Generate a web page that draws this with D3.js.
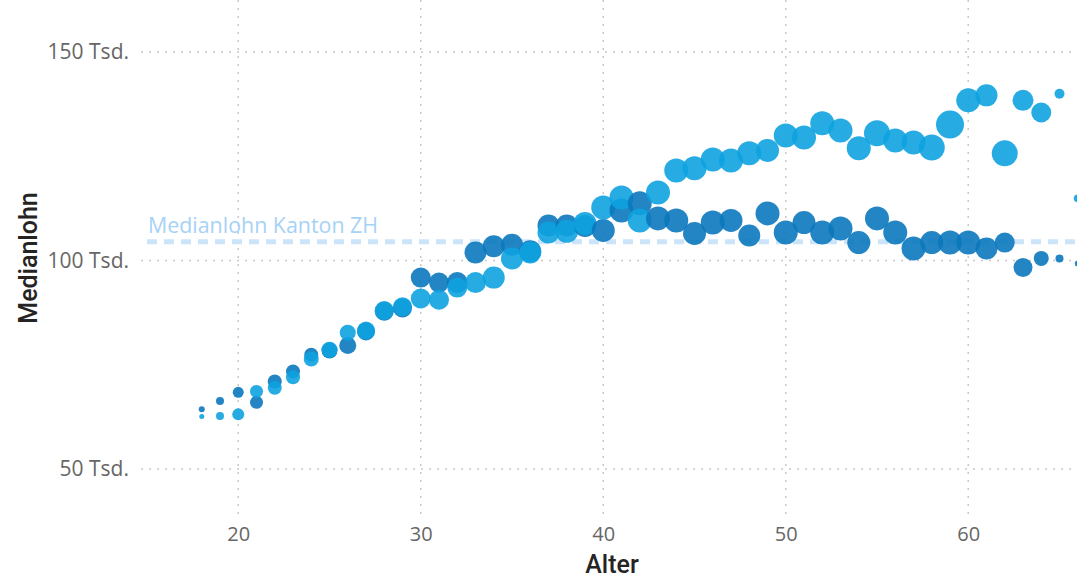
<!DOCTYPE html>
<html>
<head>
<meta charset="utf-8">
<script src="https://cdn.jsdelivr.net/npm/d3@7"></script>
<style>
  html, body { margin: 0; padding: 0; background: #ffffff; }
  svg { display: block; }
</style>
</head>
<body>
<svg id="chart" width="1077" height="580"></svg>
<script>
// Alter (Jahre)
const ages = [18,19,20,21,22,23,24,25,26,27,28,29,30,31,32,33,34,35,36,37,38,39,40,41,42,
              43,44,45,46,47,48,49,50,51,52,53,54,55,56,57,58,59,60,61,62,63,64,65,66];

// Medianlohn in Tsd. CHF, hellere Reihe
const lohnHell = [62.6,62.7,63.1,68.6,69.5,72.0,76.4,78.6,82.7,83.2,88.0,88.9,90.9,90.6,93.5,94.7,95.9,100.5,101.9,106.7,107.0,108.9,112.7,115.1,109.6,
                  116.3,121.6,122.1,124.2,124.0,125.7,126.4,130.0,129.5,132.9,131.2,126.9,130.5,128.8,128.3,127.1,132.6,138.4,139.6,125.7,138.4,135.5,140.0,114.9];
// Medianlohn in Tsd. CHF, dunklere Reihe
const lohnDunkel = [64.3,66.3,68.4,66.0,71.0,73.4,77.4,78.4,79.6,83.0,87.8,88.6,95.9,94.7,94.7,101.9,103.4,103.8,102.2,108.4,108.4,108.3,107.2,112.0,113.7,
                    110.1,109.6,106.5,109.1,109.6,106.0,111.3,106.7,109.1,106.7,107.7,104.3,110.1,106.7,102.9,104.3,104.3,104.3,102.9,104.3,98.3,100.5,100.5,99.3];

// Anzahl Beschäftigte (Blasengrösse)
const anzahlHell = [125,320,720,845,980,980,1125,1280,1280,1620,1805,1805,2000,2000,2000,2205,2420,2420,2420,2420,2645,2645,2880,2880,2880,
                    2880,2880,2880,2880,2880,2880,2645,2880,2880,2880,2880,2880,3380,2880,2880,3380,3920,2880,2420,3380,2205,2000,500,320];
const anzahlDunkel = [180,320,605,845,980,980,980,1280,1445,1620,1805,1805,2000,2000,2205,2420,2420,2420,2420,2420,2420,2420,2645,2880,2880,
                      2880,2880,2645,2880,2645,2420,2880,2880,2645,2880,2880,2645,2880,2880,2880,2645,2880,2880,2420,2000,1805,1125,320,180];

// Referenzlinie
const referenzWert = 104.5;
const referenzLabel = "Medianlohn Kanton ZH";

const yTicks = [50, 100, 150];
const xTicks = [20, 30, 40, 50, 60];

const W = 1077, H = 580;
const plot = { left: 147, right: 1077, top: 0, bottom: 516 };

const svg = d3.select("#chart");

const x = d3.scaleLinear().domain([15, 66]).range([plot.left, plot.left + (66 - 15) * 18.25]);
const y = d3.scaleLinear().domain([50, 150]).range([469, 52]);
const r = d3.scaleSqrt().domain([0, 3920]).range([0, 14]);

// Gitterlinien
const grid = svg.append("g");
grid.selectAll("line.v").data(xTicks).join("line")
  .attr("x1", d => x(d)).attr("x2", d => x(d))
  .attr("y1", plot.top).attr("y2", plot.bottom)
  .attr("stroke", "#c8c8c8").attr("stroke-width", 1.5)
  .attr("stroke-dasharray", "2,6");
grid.selectAll("line.h").data(yTicks).join("line")
  .attr("x1", plot.left - 6).attr("x2", plot.right)
  .attr("y1", d => y(d)).attr("y2", d => y(d))
  .attr("stroke", "#c8c8c8").attr("stroke-width", 1.5)
  .attr("stroke-dasharray", "2,6");

// Achsen (nur Beschriftungen)
const yAxis = d3.axisLeft(y).tickValues(yTicks).tickSize(0).tickPadding(0)
  .tickFormat(d => d + " Tsd.");
svg.append("g").attr("transform", `translate(${plot.left - 18},0)`).call(yAxis)
  .call(g => g.select(".domain").remove())
  .selectAll("text")
  .attr("font-family", "'Open Sans', sans-serif").attr("font-size", 21)
  .attr("fill", "#666666");

const xAxis = d3.axisBottom(x).tickValues(xTicks).tickSize(0).tickPadding(0);
svg.append("g").attr("transform", `translate(0,527)`).call(xAxis)
  .call(g => g.select(".domain").remove())
  .selectAll("text")
  .attr("font-family", "'Open Sans', sans-serif").attr("font-size", 20)
  .attr("fill", "#666666");

// Achsentitel
svg.append("text")
  .attr("x", 612).attr("y", 573)
  .attr("text-anchor", "middle")
  .attr("font-family", "Roboto, sans-serif").attr("font-weight", 500)
  .attr("font-size", 25).attr("fill", "#252423")
  .text("Alter");
svg.append("text")
  .attr("transform", "translate(37,258) rotate(-90)")
  .attr("text-anchor", "middle")
  .attr("font-family", "Roboto, sans-serif").attr("font-weight", 500)
  .attr("font-size", 25).attr("fill", "#252423")
  .text("Medianlohn");

// Zeichenfläche mit Clip
svg.append("defs").append("clipPath").attr("id", "plotclip")
  .append("rect").attr("x", plot.left).attr("y", plot.top)
  .attr("width", plot.right - plot.left).attr("height", plot.bottom - plot.top);

const area = svg.append("g").attr("clip-path", "url(#plotclip)");

// Referenzlinie Kanton ZH
area.append("line")
  .attr("x1", plot.left).attr("x2", plot.right)
  .attr("y1", y(referenzWert)).attr("y2", y(referenzWert))
  .attr("stroke", "#cbe4fa").attr("stroke-width", 5)
  .attr("stroke-dasharray", "10,7");
area.append("text")
  .attr("x", plot.left + 1).attr("y", y(referenzWert) - 9)
  .attr("font-family", "'Open Sans', sans-serif").attr("font-size", 21.4)
  .attr("fill", "#a6d2f6")
  .text(referenzLabel);

// Blasen
const punkte = [];
ages.forEach((a, i) => {
  punkte.push({ alter: a, lohn: lohnDunkel[i], anzahl: anzahlDunkel[i], reihe: "dunkel" });
  punkte.push({ alter: a, lohn: lohnHell[i], anzahl: anzahlHell[i], reihe: "hell" });
});
const farbe = { hell: "#0ea2e0", dunkel: "#0b78bd" };

area.selectAll("circle").data(punkte).join("circle")
  .attr("cx", d => x(d.alter))
  .attr("cy", d => y(d.lohn))
  .attr("r", d => r(d.anzahl))
  .attr("fill", d => farbe[d.reihe])
  .attr("fill-opacity", 0.9);
</script>
</body>
</html>
